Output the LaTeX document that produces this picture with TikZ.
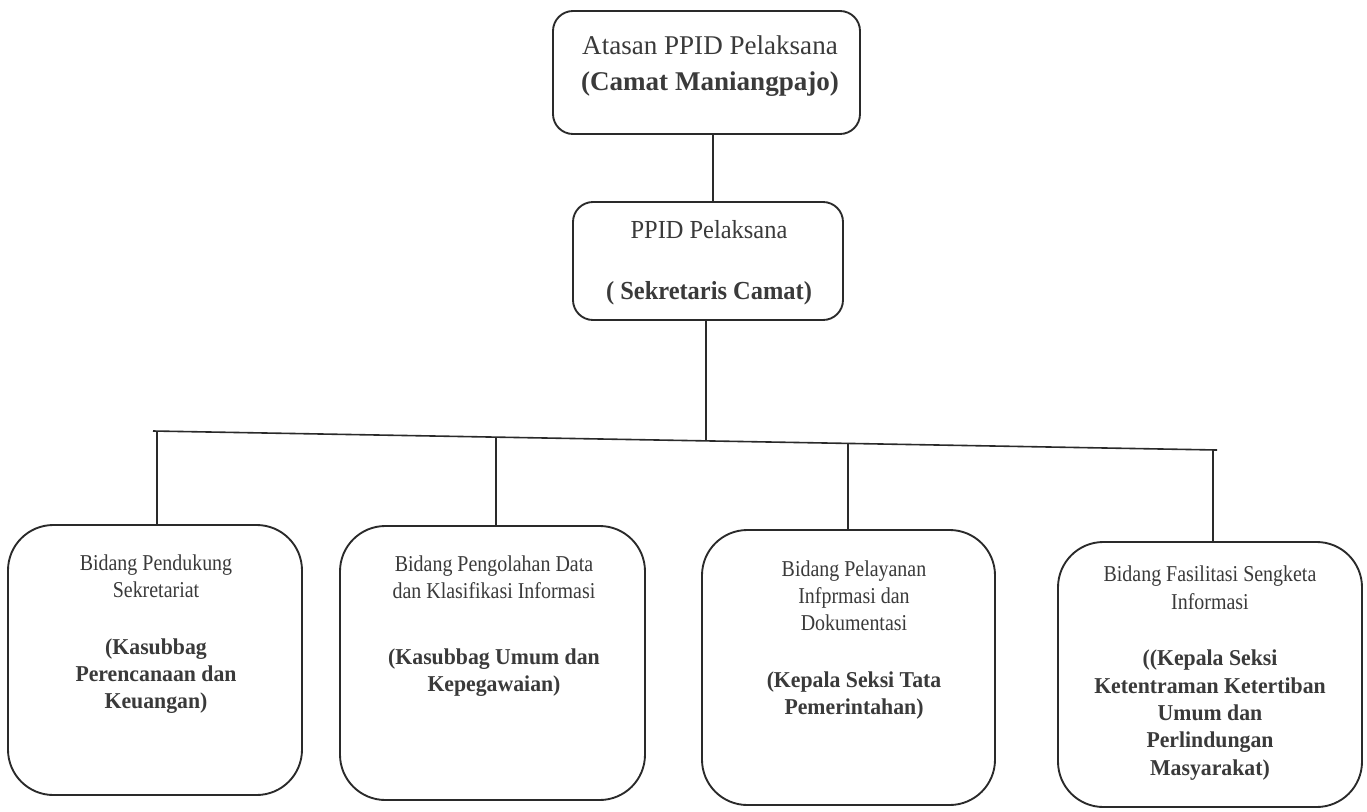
\documentclass[tikz,border=0pt]{standalone}
\usepackage{fontspec}
\setmainfont{Liberation Serif}
\newfontfamily\lowfont[FakeStretch=0.88,BoldFeatures={FakeStretch=0.96}]{Liberation Serif}
\newfontfamily\midfont[FakeStretch=0.94]{Liberation Serif}
\usetikzlibrary{fit}
\definecolor{ink}{HTML}{2A2A2A}
\definecolor{txtc}{HTML}{3A3A3A}
\begin{document}
\begin{tikzpicture}[x=0.75pt,y=-0.75pt,
  box/.style={draw=ink, line width=1.4pt, rounded corners=15pt, inner sep=0pt},
  bigbox/.style={draw=ink, line width=1.4pt, rounded corners=34pt, inner sep=0pt},
  conn/.style={draw=ink, line width=1.2pt},
  toptxt/.style={text=txtc, align=center, inner sep=0pt, font=\fontsize{20.3}{27}\selectfont},
  midtxt/.style={text=txtc, align=center, inner sep=0pt, font=\midfont\fontsize{19.5}{22}\selectfont},
  lowtxt/.style={text=txtc, align=center, inner sep=0pt, font=\lowfont\fontsize{17}{20.5}\selectfont}]
\useasboundingbox[fill=white] (0,0) rectangle (1367,811);

% boxes
\node[box, fit={(553,11) (860,134)}] (top) {};
\node[box, fit={(573,202) (843,320)}] (mid) {};
\node[bigbox, fit={(8,525) (302,795)}] (b1) {};
\node[bigbox, fit={(340,526) (645,800)}] (b2) {};
\node[bigbox, fit={(702,530) (995,805)}] (b3) {};
\node[bigbox, fit={(1058,542) (1362,807)}] (b4) {};

% texts
\node[toptxt] (t0) at (710,66) {Atasan PPID Pelaksana\\\textbf{(Camat Maniangpajo)}};
\node[midtxt] (t1) at (709,263) {PPID Pelaksana\\[24pt]\textbf{( Sekretaris Camat)}};
\node[lowtxt] (t2) at (156,634) {Bidang Pendukung\\Sekretariat\\[22pt]\textbf{(Kasubbag}\\\textbf{Perencanaan dan}\\\textbf{Keuangan)}};
\node[lowtxt] (t3) at (494,626) {Bidang Pengolahan Data\\dan Klasifikasi Informasi\\[29pt]\textbf{(Kasubbag Umum dan}\\\textbf{Kepegawaian)}};
\node[lowtxt] (t4) at (854,640) {Bidang Pelayanan\\Infprmasi dan\\Dokumentasi\\[22pt]\textbf{(Kepala Seksi Tata}\\\textbf{Pemerintahan)}};
\node[lowtxt] (t5) at (1210,673) {Bidang Fasilitasi Sengketa\\Informasi\\[22pt]\textbf{((Kepala Seksi}\\\textbf{Ketentraman Ketertiban}\\\textbf{Umum dan}\\\textbf{Perlindungan}\\\textbf{Masyarakat)}};

% connectors
\coordinate (x1) at (713,0);
\coordinate (busL) at (153,431);
\coordinate (busR) at (1217,450);
\coordinate (jm) at (706,440.9);
\coordinate (j1) at (157,431.1);
\coordinate (j2) at (496,437.1);
\coordinate (j3) at (848,443.4);
\coordinate (j4) at (1213,449.9);

\draw[conn] (top.south -| x1) -- (mid.north -| x1);
\draw[conn] (mid.south -| jm) -- (jm);
\draw[conn] (busL) -- (busR);
\draw[conn] (j1) -- (j1 |- b1.north);
\draw[conn] (j2) -- (j2 |- b2.north);
\draw[conn] (j3) -- (j3 |- b3.north);
\draw[conn] (j4) -- (j4 |- b4.north);
\end{tikzpicture}
\end{document}
